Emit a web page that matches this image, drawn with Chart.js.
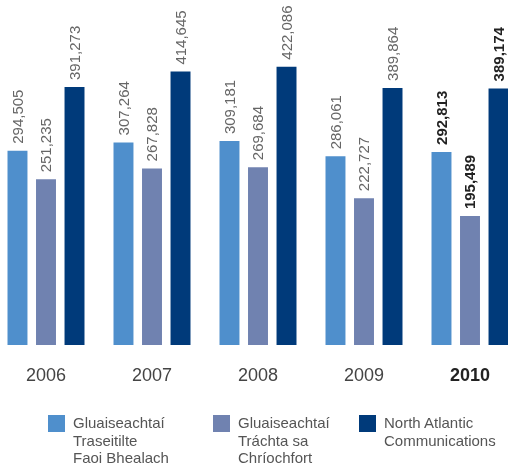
<!DOCTYPE html>
<html>
<head>
<meta charset="utf-8">
<script src="https://cdn.jsdelivr.net/npm/chart.js@4/dist/chart.umd.min.js"></script>
<style>
  html, body { margin: 0; padding: 0; background: #fff; overflow: hidden; width: 508px; height: 465px; }
  #wrap { position: absolute; left: -7px; top: 0; width: 530px; height: 420px; }
  #legend { position: absolute; left: 0; top: 0; width: 508px; height: 465px; pointer-events: none;
            font-family: "Liberation Sans", Arial, sans-serif; font-size: 15px; color: #555; }
  .item { position: absolute; top: 415px; }
  .box { position: absolute; left: 0; top: 0; width: 17px; height: 17px; }
  .txt { position: absolute; left: 25px; top: -1px; line-height: 17.5px; white-space: nowrap; }
</style>
</head>
<body>
<div id="wrap"><canvas id="c"></canvas></div>
<div id="legend"></div>
<script>
const categories = ["2006", "2007", "2008", "2009", "2010"];
const seriesNames = [
  ["Gluaiseachtaí", "Traseitilte", "Faoi Bhealach"],
  ["Gluaiseachtaí", "Tráchta sa", "Chríochfort"],
  ["North Atlantic", "Communications"]
];
const transitValues = [294505, 307264, 309181, 286061, 292813];
const terminalValues = [251235, 267828, 269684, 222727, 195489];
const ncaValues = [391273, 414645, 422086, 389864, 389174];
const colors = ["#4f8fcc", "#7082b0", "#003a7a"];
const legendX = [48, 213, 359];
const boldIndex = 4;

const fmt = v => v.toLocaleString("en-US");

const labelPlugin = {
  id: "valueLabels",
  afterDatasetsDraw(chart) {
    const ctx = chart.ctx;
    chart.data.datasets.forEach((ds, di) => {
      const meta = chart.getDatasetMeta(di);
      meta.data.forEach((bar, i) => {
        ctx.save();
        ctx.translate(bar.x, bar.y - 7);
        ctx.rotate(-Math.PI / 2);
        const bold = i === boldIndex;
        ctx.font = (bold ? "bold " : "") + "15px 'Liberation Sans', Arial, sans-serif";
        ctx.fillStyle = bold ? "#222" : "#666";
        ctx.textAlign = "left";
        ctx.textBaseline = "middle";
        ctx.fillText(fmt(ds.data[i]), 0, 1);
        ctx.restore();
      });
    });
  }
};

const datasets = [transitValues, terminalValues, ncaValues].map((vals, k) => ({
  label: seriesNames[k].join(" "),
  data: vals,
  backgroundColor: colors[k],
  borderWidth: 0,
  categoryPercentage: 0.807,
  barPercentage: 0.70
}));

new Chart(document.getElementById("c"), {
  type: "bar",
  data: { labels: categories, datasets },
  plugins: [labelPlugin],
  options: {
    responsive: true,
    maintainAspectRatio: false,
    animation: false,
    layout: { padding: { top: 0, left: 0, right: 0, bottom: 13.4 } },
    plugins: { legend: { display: false }, tooltip: { enabled: false } },
    scales: {
      y: { display: false, min: 0, max: 523200 },
      x: {
        grid: { display: false, drawTicks: false },
        border: { display: false },
        ticks: {
          autoSkip: false, maxRotation: 0, padding: 20,
          color: ctx => ctx.index === boldIndex ? "#222" : "#444",
          font: ctx => ({ family: "'Liberation Sans', Arial, sans-serif", size: 18,
                          weight: ctx.index === boldIndex ? "bold" : "normal" })
        }
      }
    }
  }
});

const lg = document.getElementById("legend");
seriesNames.forEach((lines, k) => {
  const it = document.createElement("div");
  it.className = "item";
  it.style.left = legendX[k] + "px";
  const b = document.createElement("div");
  b.className = "box";
  b.style.background = colors[k];
  const t = document.createElement("div");
  t.className = "txt";
  t.innerHTML = lines.join("<br>");
  it.appendChild(b); it.appendChild(t);
  lg.appendChild(it);
});
</script>
</body>
</html>
